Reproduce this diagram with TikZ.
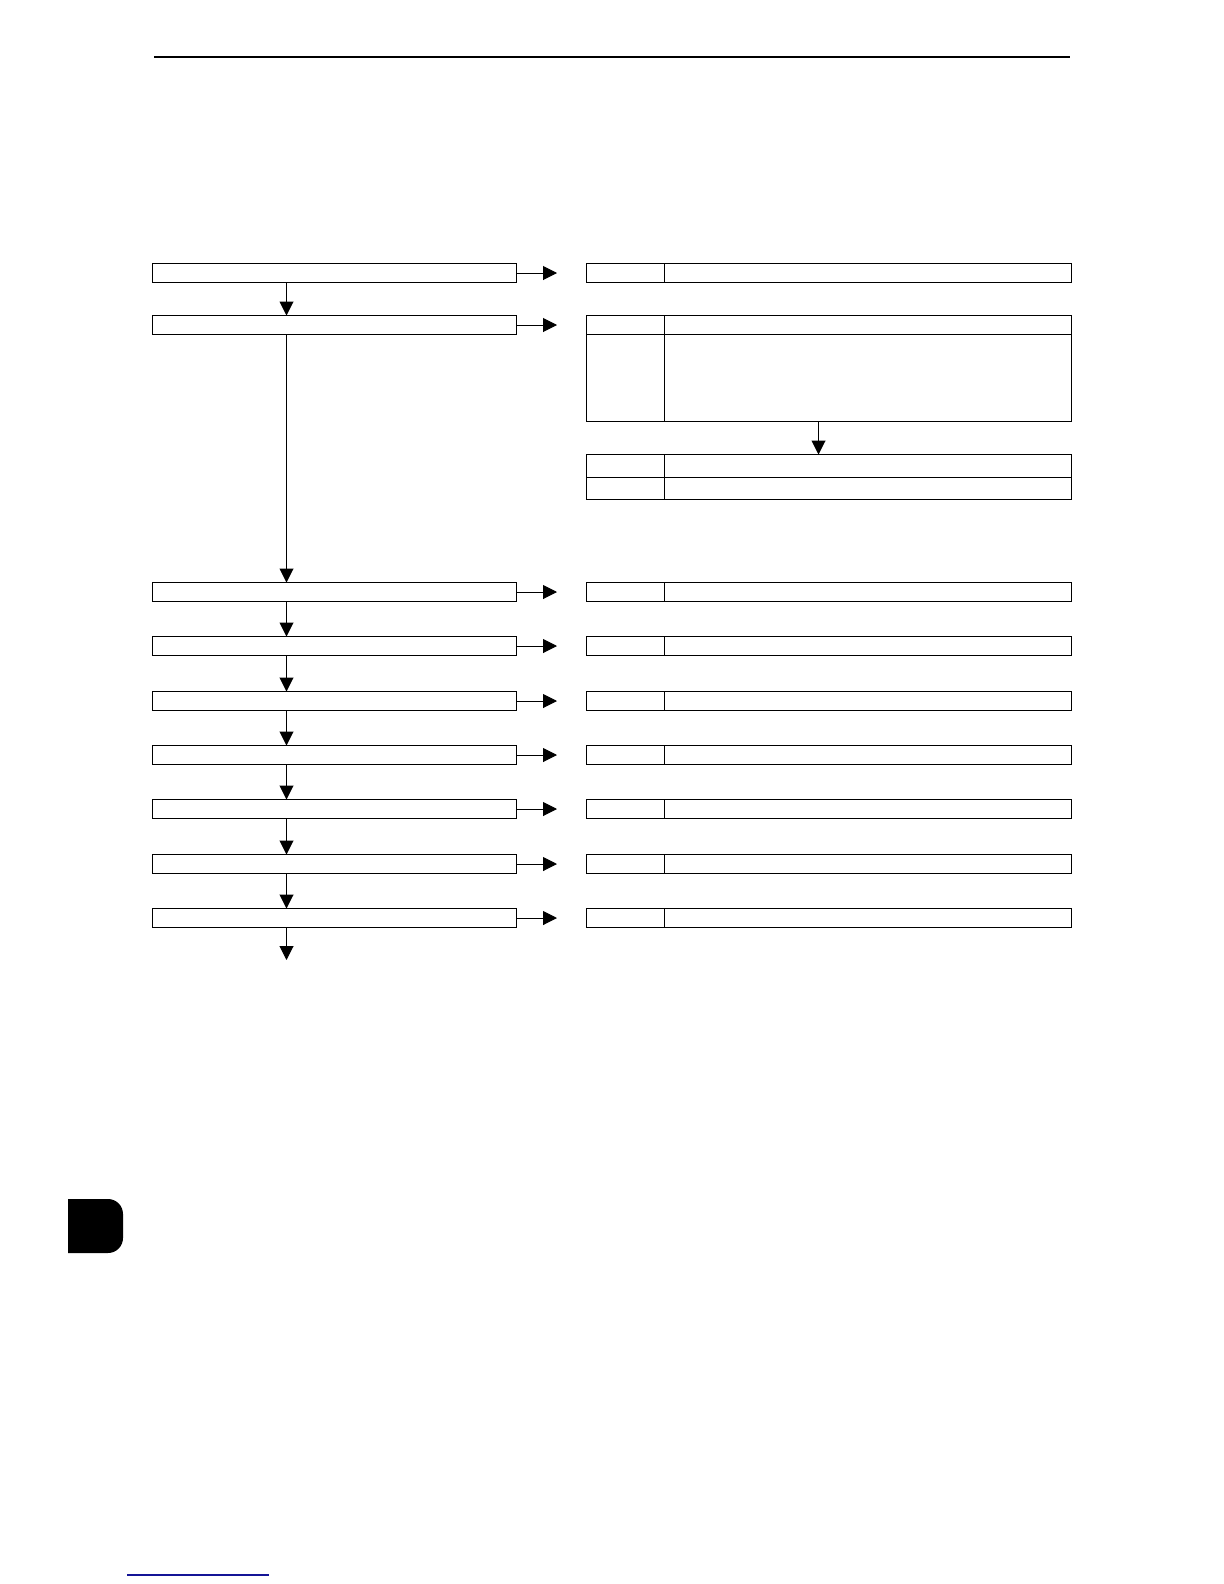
\documentclass[tikz,border=0pt]{standalone}
\usepackage{tikz}
\usetikzlibrary{arrows.meta}
\definecolor{linkblue}{RGB}{20,20,150}

\begin{document}
\begin{tikzpicture}[x=0.5pt,y=-0.5pt,
  lbox/.style={draw, line width=0.5pt, anchor=north west, inner sep=0pt, outer sep=0pt,
    minimum width=182pt, minimum height=9.5pt},
  rlab/.style={draw, line width=0.5pt, anchor=north west, inner sep=0pt, outer sep=0pt,
    minimum width=39pt, minimum height=9.5pt},
  rtxt/.style={draw, line width=0.5pt, anchor=north west, inner sep=0pt, outer sep=0pt,
    minimum width=203.5pt, minimum height=9.5pt},
  flow/.style={line width=0.5pt, -{Triangle[length=7pt,width=7pt]}}]
\useasboundingbox (0,0) rectangle (1224,1584);
% page rule, tab and link line
\draw[line width=1pt] (154,57) -- (1070,57);
\fill (68,1199) -- (108,1199) arc[start angle=-90,end angle=0,radius=15]
  -- (123,1238) arc[start angle=0,end angle=90,radius=15] -- (68,1253) -- cycle;
\draw[linkblue, line width=0.8pt] (127,1575) -- (269,1575);
% tip column of the side arrows
\coordinate (tip) at (557,0);
% first two steps
\node[lbox] (l1) at (152.5,263.5) {};
\node[lbox] (l2) at (152.5,315.5) {};
\node[rlab] (p1) at (586.5,263.5) {};
\node[rtxt] (q1) at (664.5,263.5) {};
\node[rlab] (p2) at (586.5,315.5) {};
\node[rtxt] (q2) at (664.5,315.5) {};
\node[rlab, minimum height=43.5pt] (p2b) at (586.5,334.5) {};
\node[rtxt, minimum height=43.5pt] (q2b) at (664.5,334.5) {};
\node[rlab, minimum height=11.5pt] (p2c) at (586.5,454.5) {};
\node[rtxt, minimum height=11.5pt] (q2c) at (664.5,454.5) {};
\node[rlab, minimum height=11pt] (p2d) at (586.5,477.5) {};
\node[rtxt, minimum height=11pt] (q2d) at (664.5,477.5) {};
\draw[flow] (l1.east) -- (l1.east -| tip);
\draw[flow] (l2.east) -- (l2.east -| tip);
\draw[flow] (l1.south -| 286.5,0) -- (l2.north -| 286.5,0);
\draw[flow] (q2b.south -| 818.5,0) -- (q2c.north -| 818.5,0);
% remaining steps
\foreach \i/\y in {3/582.5,4/636.5,5/691.5,6/745.5,7/799.5,8/854.5,9/908.5} {
  \node[lbox] (l\i) at (152.5,\y) {};
  \node[rlab] (p\i) at (586.5,\y) {};
  \node[rtxt] (q\i) at (664.5,\y) {};
  \draw[flow] (l\i.east) -- (l\i.east -| tip);
}
\foreach \i [evaluate=\i as \j using int(\i+1)] in {2,...,8} {
  \draw[flow] (l\i.south -| 286.5,0) -- (l\j.north -| 286.5,0);
}
\coordinate (e9) at (286.5,960);
\draw[flow] (l9.south -| 286.5,0) -- (e9);
\end{tikzpicture}
\end{document}
